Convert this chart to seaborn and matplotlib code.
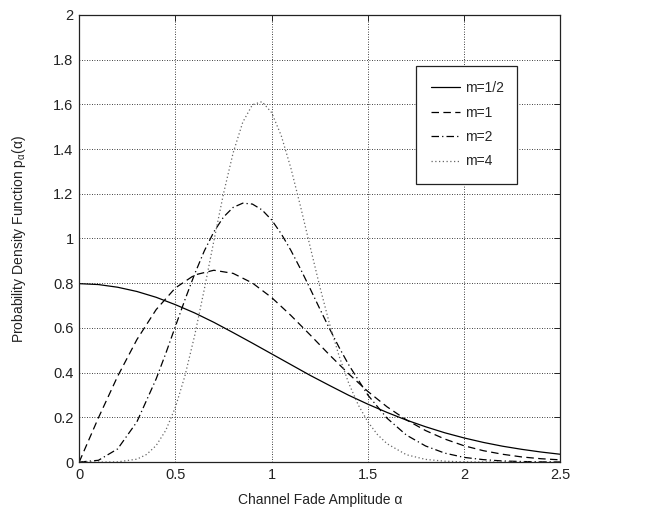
import numpy as np
import pandas as pd
import matplotlib
matplotlib.use('Agg')
import matplotlib.pyplot as plt
import seaborn as sns

# 페이딩 진폭별 확률밀도
x_half = [0.0, 0.1, 0.2, 0.3, 0.4, 0.5, 0.6, 0.7, 0.8, 0.9, 1.0, 1.1, 1.2, 1.3,
          1.4, 1.5, 1.6, 1.7, 1.8, 1.9, 2.0, 2.1, 2.2, 2.3, 2.4, 2.5]
y_half = [0.798, 0.794, 0.782, 0.763, 0.737, 0.704, 0.667, 0.625, 0.579, 0.532,
          0.484, 0.436, 0.388, 0.343, 0.299, 0.259, 0.222, 0.188, 0.158, 0.131,
          0.108, 0.088, 0.071, 0.057, 0.045, 0.035]

x_m1 = x_half
y_m1 = [0.0, 0.198, 0.384, 0.548, 0.682, 0.779, 0.837, 0.858, 0.844, 0.801,
        0.736, 0.656, 0.569, 0.480, 0.395, 0.316, 0.247, 0.189, 0.141, 0.103,
        0.073, 0.051, 0.035, 0.023, 0.015, 0.010]

x_m2 = [0.0, 0.1, 0.2, 0.3, 0.4, 0.45, 0.5, 0.55, 0.6, 0.65, 0.7, 0.75, 0.8, 0.85,
        0.9, 0.95, 1.0, 1.05, 1.1, 1.15, 1.2, 1.25, 1.3, 1.35, 1.4, 1.5, 1.6,
        1.7, 1.8, 1.9, 2.0, 2.1, 2.2, 2.3, 2.4, 2.5]
y_m2 = [0.0, 0.008, 0.059, 0.180, 0.372, 0.486, 0.607, 0.727, 0.841, 0.944,
        1.030, 1.096, 1.139, 1.158, 1.154, 1.128, 1.083, 1.021, 0.947, 0.864,
        0.776, 0.686, 0.598, 0.514, 0.436, 0.300, 0.196, 0.121, 0.072, 0.040,
        0.021, 0.011, 0.005, 0.0025, 0.001, 0.0005]

x_m4 = [0.0, 0.1, 0.2, 0.3, 0.35, 0.4, 0.45, 0.5, 0.55, 0.6, 0.65, 0.7, 0.75,
        0.8, 0.85, 0.9, 0.95, 1.0, 1.05, 1.1, 1.15, 1.2, 1.25, 1.3, 1.35, 1.4,
        1.45, 1.5, 1.55, 1.6, 1.7, 1.8, 1.9, 2.0, 2.2, 2.5]
y_m4 = [0.0, 0.0, 0.001, 0.013, 0.034, 0.074, 0.142, 0.245, 0.387, 0.566,
        0.772, 0.990, 1.201, 1.383, 1.520, 1.598, 1.612, 1.563, 1.460, 1.315,
        1.144, 0.964, 0.786, 0.621, 0.476, 0.354, 0.256, 0.180, 0.123, 0.082,
        0.033, 0.012, 0.004, 0.001, 0.0001, 0.0]

labels = ['m=1/2', 'm=1', 'm=2', 'm=4']

sns.set_style('white')
plt.rcParams['font.family'] = ['Liberation Sans', 'DejaVu Sans']
plt.rcParams['mathtext.fontset'] = 'custom'
plt.rcParams['mathtext.rm'] = 'Liberation Sans'
plt.rcParams['mathtext.it'] = 'Liberation Sans:italic'

fig = plt.figure(figsize=(6.71, 5.14), dpi=100)
ax = fig.add_axes([0.118, 0.101, 0.717, 0.870])

series = [(x_half, y_half, '-', 'black'),
          (x_m1, y_m1, (0, (6, 3.5)), 'black'),
          (x_m2, y_m2, (0, (6, 2.5, 1, 2.5)), 'black'),
          (x_m4, y_m4, (0, (1, 2)), '0.4')]
for (xs, ys, ls, c), lab in zip(series, labels):
    sns.lineplot(x=xs, y=ys, ax=ax, color=c, linestyle=ls, linewidth=0.9,
                 label=lab, sort=False)

ax.set_xlim(0, 2.5)
ax.set_ylim(0, 2)
ax.set_xticks([0, 0.5, 1, 1.5, 2, 2.5])
ax.set_xticklabels(['0', '0.5', '1', '1.5', '2', '2.5'])
ax.set_yticks(np.arange(0, 2.01, 0.2))
ax.set_yticklabels(['0', '0.2', '0.4', '0.6', '0.8', '1', '1.2', '1.4', '1.6', '1.8', '2'])
ax.grid(True, color='black', linestyle=(0, (1, 2)), linewidth=0.6)
ax.tick_params(direction='in', top=True, right=True, length=4, width=0.7,
               labelsize=10.5, colors='#222222', pad=4)
for s in ax.spines.values():
    s.set_color('#222222')
    s.set_linewidth(0.9)

ax.set_xlabel('Channel Fade Amplitude α', fontsize=10, color='#222222', labelpad=8)
ax.set_ylabel(r'Probability Density Function p$_{\mathrm{α}}$(α)', fontsize=10,
              color='#222222', labelpad=18)

leg = ax.legend(loc='upper left', bbox_to_anchor=(0.70, 0.886, 0.21, 0.0), mode='expand',
                fontsize=10, frameon=True, fancybox=False, framealpha=1,
                edgecolor='#222222', handlelength=2.1, handletextpad=0.3,
                labelspacing=0.75, borderpad=1.1, borderaxespad=0)
leg.get_frame().set_linewidth(0.9)

fig.savefig('out.png', dpi=100)
